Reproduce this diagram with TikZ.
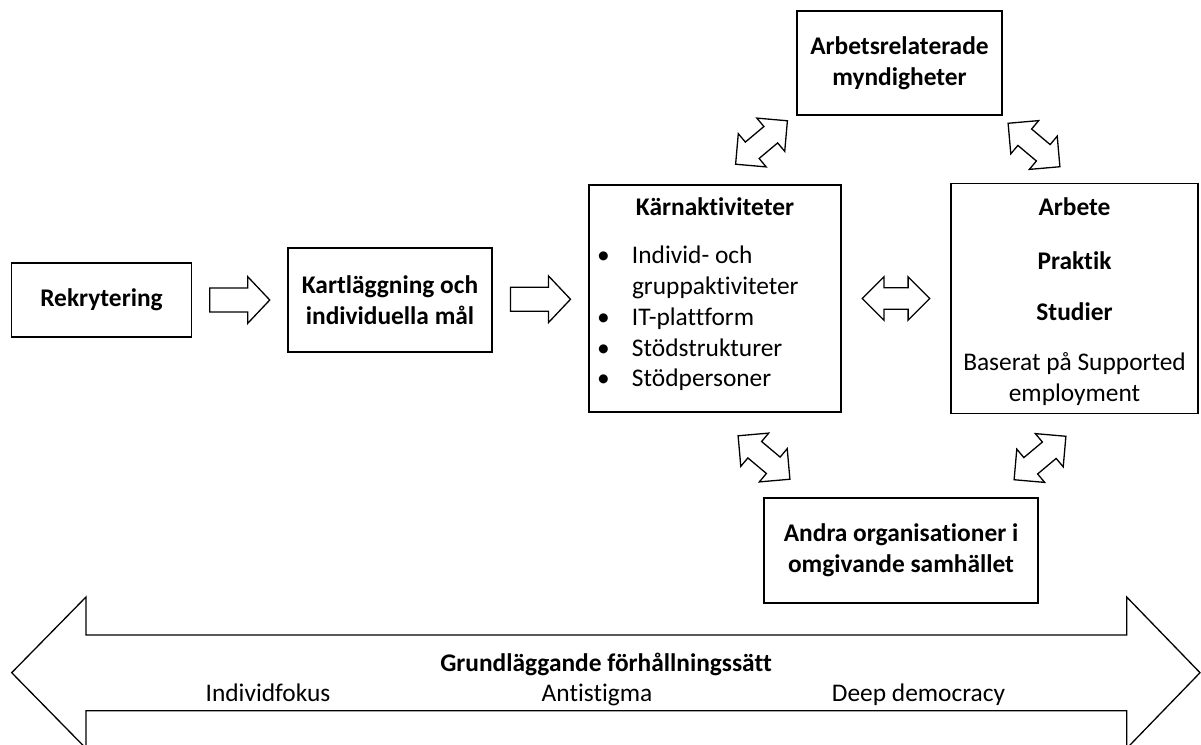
\documentclass[tikz,border=0pt]{standalone}
\usepackage{fontspec}
\setmainfont{Carlito}[Ligatures=NoCommon]
\usetikzlibrary{calc}

\newcommand{\diagfont}{\fontsize{25.4}{30.8}\selectfont}

\begin{document}
\begin{tikzpicture}[x=1pt, y=-1pt,
    box/.style={draw, line width=1.3pt, align=flush center, inner sep=8pt, font=\diagfont\bfseries},
    basetext/.style={font=\diagfont, anchor=base, inner sep=0pt},
    outline/.style={draw, line width=1.3pt, line join=miter},
    pics/singlearrow/.style={code={
        \draw[outline] (-30,-12) -- (8,-12) -- (8,-23.3) -- (30,0) -- (8,23.3) -- (8,12) -- (-30,12) -- cycle;
    }},
    pics/doublearrow/.style={code={
        \draw[outline] (-33.8,0) -- (-12.1,-21.7) -- (-12.1,-10.7) -- (12.1,-10.7) -- (12.1,-21.7)
            -- (33.8,0) -- (12.1,21.7) -- (12.1,10.7) -- (-12.1,10.7) -- (-12.1,21.7) -- cycle;
    }}]
    \useasboundingbox (0,0) rectangle (1201,744);

    % Process boxes
    \node[box, minimum width=180pt, minimum height=74pt] (rekr) at (101.5,300) {Rekrytering};
    \node[box, minimum width=204pt, minimum height=104pt] (kart) at (390,300) {Kartläggning och\\individuella mål};
    \node[box, minimum width=252pt, minimum height=227pt, text width=236pt, align=flush left, font=\diagfont] (kaern) at (715,298.5)
        {\makebox[236pt]{\textbf{Kärnaktiviteter}}\\[17pt]
         \makebox[35pt][l]{•}Individ- och\\
         \hspace*{35pt}gruppaktiviteter\\
         \makebox[35pt][l]{•}IT-plattform\\
         \makebox[35pt][l]{•}Stödstrukturer\\
         \makebox[35pt][l]{•}Stödpersoner\rule[-12pt]{0pt}{1pt}};
    \node[box, minimum width=247pt, minimum height=227pt, text width=231pt, font=\diagfont] (arbete) at (1074.5,298.5)
        {\rule{0pt}{24pt}\textbf{Arbete}\\[23pt]\textbf{Praktik}\\[21pt]\textbf{Studier}\\[19pt]Baserat på Supported\\employment};

    % Surrounding actors
    \node[box, minimum width=205pt, minimum height=104pt] (myndig) at (899.5,63) {Arbetsrelaterade\\myndigheter};
    \node[box, minimum width=274pt, minimum height=105pt] (andra) at (901,550.5) {Andra organisationer i\\omgivande samhället};

    % Block arrows
    \pic at ($(rekr.east)!0.5!(kart.west)$) {singlearrow};
    \pic at ($(kart.east)!0.5!(kaern.west)$) {singlearrow};
    \pic at ($(kaern.east)!0.5!(arbete.west)$) {doublearrow};
    \pic[rotate=40] at (761.5,142.5) {doublearrow};
    \pic[rotate=-40] at (1034,145) {doublearrow};
    \pic[rotate=-40] at (764,457.5) {doublearrow};
    \pic[rotate=40] at (1040,458) {doublearrow};

    % Basic approach arrow
    \draw[outline] (11.7,672.7) -- (86,597) -- (86,635) -- (1126.7,635) -- (1126.7,597) -- (1200,672.7)
        -- (1126.7,748.4) -- (1126.7,710.7) -- (86,710.7) -- (86,748.4) -- cycle;
    \node[basetext, font=\diagfont\bfseries] (grund) at (606,671) {Grundläggande förhållningssätt};
    \node[basetext] (fokus) at (268,701) {Individfokus};
    \node[basetext] (stigma) at (597,701) {Antistigma};
    \node[basetext] (deep) at (918.5,701) {Deep democracy};
\end{tikzpicture}
\end{document}
